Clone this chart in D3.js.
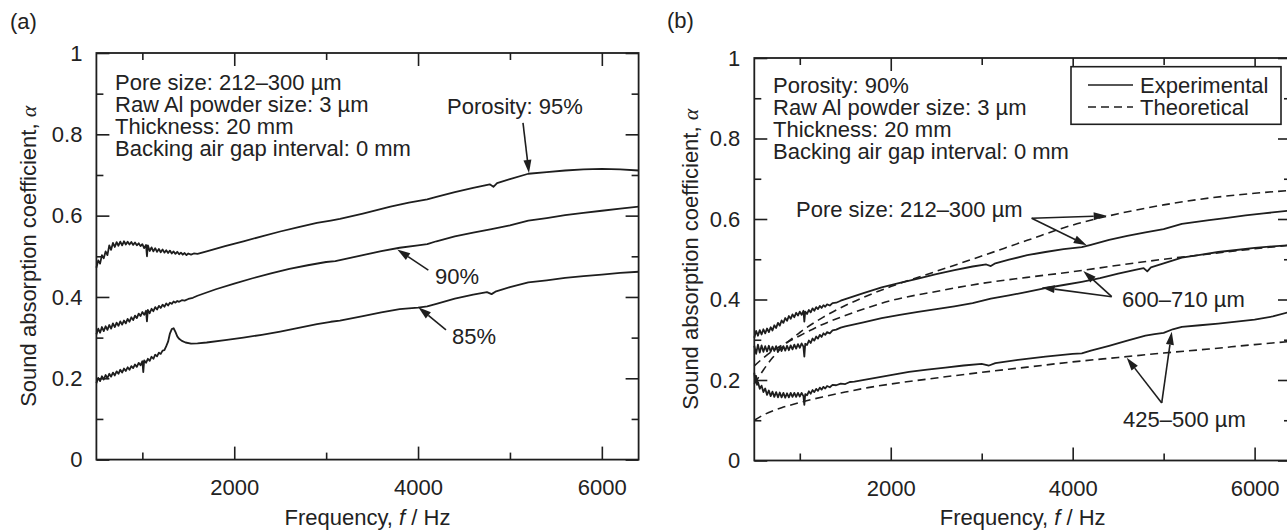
<!DOCTYPE html>
<html>
<head>
<meta charset="utf-8">
<script src="https://cdn.jsdelivr.net/npm/d3@7"></script>
<style>
  body { margin: 0; background: #fff; }
  text { font-family: "Liberation Sans", Arial, Helvetica, sans-serif; fill: #222; }
</style>
</head>
<body>
<script>
// ---- data: [frequency Hz, absorption coefficient] ----
const xMajor = [2000, 4000, 6000];
const xMinor = [1000, 3000, 5000];
const yMajor = [0, 0.2, 0.4, 0.6, 0.8, 1];
const yMinor = [0.1, 0.3, 0.5, 0.7, 0.9];

// (a) experimental, porosity 95 / 90 / 85 %
const a95 = [[500,0.472],[520,0.49],[540,0.482],[560,0.503],[580,0.495],[600,0.512],[620,0.503],[640,0.527],[660,0.516],[680,0.533],[700,0.523],[720,0.535],[740,0.526],[760,0.536],[780,0.527],[800,0.537],[820,0.529],[840,0.536],[860,0.529],[880,0.535],[900,0.528],[920,0.534],[940,0.527],[960,0.532],[980,0.525],[1000,0.53],[1020,0.52],[1040,0.528],[1050,0.5],[1060,0.527],[1080,0.513],[1100,0.522],[1120,0.512],[1140,0.52],[1160,0.511],[1180,0.518],[1200,0.51],[1220,0.517],[1240,0.509],[1260,0.515],[1280,0.508],[1300,0.514],[1320,0.507],[1340,0.512],[1360,0.506],[1380,0.511],[1400,0.505],[1420,0.509],[1440,0.504],[1460,0.508],[1480,0.503],[1500,0.507],[1530,0.504],[1560,0.507],[1600,0.506],[1700,0.512],[1900,0.525],[2100,0.537],[2300,0.549],[2500,0.561],[2700,0.572],[2900,0.582],[3050,0.588],[3150,0.592],[3400,0.605],[3700,0.622],[3900,0.632],[4100,0.64],[4200,0.646],[4400,0.658],[4600,0.668],[4780,0.677],[4820,0.671],[4860,0.68],[5000,0.69],[5200,0.703],[5400,0.707],[5600,0.711],[5800,0.714],[6000,0.715],[6200,0.714],[6400,0.711]];
const a90 = [[500,0.308],[520,0.322],[540,0.312],[560,0.326],[580,0.316],[600,0.328],[620,0.319],[640,0.331],[660,0.322],[680,0.335],[700,0.326],[720,0.337],[740,0.329],[760,0.34],[780,0.332],[800,0.342],[820,0.335],[840,0.346],[860,0.339],[880,0.35],[900,0.343],[920,0.354],[940,0.348],[960,0.359],[980,0.353],[1000,0.363],[1020,0.356],[1040,0.366],[1050,0.34],[1060,0.368],[1080,0.36],[1100,0.371],[1120,0.365],[1140,0.375],[1160,0.369],[1180,0.378],[1200,0.373],[1220,0.381],[1240,0.376],[1260,0.384],[1280,0.379],[1300,0.386],[1320,0.383],[1340,0.389],[1360,0.386],[1380,0.39],[1400,0.388],[1430,0.392],[1460,0.391],[1500,0.395],[1550,0.398],[1600,0.403],[1800,0.419],[2000,0.433],[2200,0.446],[2400,0.458],[2600,0.469],[2800,0.478],[3000,0.486],[3100,0.488],[3200,0.493],[3400,0.503],[3600,0.513],[3800,0.521],[4000,0.527],[4100,0.53],[4200,0.537],[4400,0.549],[4600,0.558],[4800,0.567],[5000,0.576],[5200,0.588],[5400,0.594],[5600,0.601],[5800,0.607],[6000,0.612],[6200,0.617],[6400,0.622]];
const a85 = [[500,0.188],[520,0.201],[540,0.193],[560,0.205],[580,0.197],[600,0.208],[620,0.2],[640,0.211],[660,0.204],[680,0.214],[700,0.207],[720,0.217],[740,0.211],[760,0.221],[780,0.214],[800,0.224],[820,0.218],[840,0.227],[860,0.221],[880,0.23],[900,0.225],[920,0.234],[940,0.228],[960,0.238],[980,0.232],[1000,0.242],[1010,0.215],[1020,0.244],[1040,0.238],[1060,0.248],[1080,0.243],[1100,0.253],[1120,0.248],[1140,0.258],[1160,0.254],[1180,0.263],[1200,0.26],[1220,0.268],[1240,0.269],[1260,0.279],[1280,0.29],[1300,0.31],[1320,0.321],[1340,0.323],[1360,0.314],[1380,0.303],[1400,0.297],[1430,0.292],[1470,0.288],[1530,0.285],[1600,0.286],[1700,0.288],[1900,0.294],[2100,0.3],[2300,0.307],[2500,0.315],[2700,0.324],[2900,0.333],[3050,0.339],[3150,0.342],[3400,0.353],[3600,0.362],[3800,0.37],[4000,0.374],[4100,0.377],[4200,0.383],[4400,0.396],[4600,0.406],[4750,0.412],[4800,0.407],[4850,0.414],[5000,0.424],[5200,0.436],[5400,0.441],[5600,0.447],[5800,0.451],[6000,0.455],[6200,0.459],[6400,0.462]];

// (b) experimental, pore size 212-300 / 600-710 / 425-500 um
const b212 = [[500,0.305],[520,0.322],[540,0.31],[560,0.324],[580,0.313],[600,0.326],[620,0.316],[640,0.328],[660,0.319],[680,0.331],[700,0.323],[720,0.336],[740,0.329],[760,0.342],[780,0.335],[800,0.348],[820,0.342],[840,0.354],[860,0.347],[880,0.359],[900,0.352],[920,0.363],[940,0.356],[960,0.367],[980,0.36],[1000,0.37],[1020,0.362],[1040,0.372],[1050,0.345],[1060,0.37],[1080,0.364],[1100,0.374],[1120,0.368],[1140,0.378],[1160,0.372],[1180,0.381],[1200,0.376],[1220,0.384],[1240,0.379],[1260,0.386],[1280,0.382],[1300,0.388],[1330,0.385],[1360,0.391],[1400,0.392],[1450,0.397],[1500,0.401],[1700,0.416],[1900,0.43],[2100,0.441],[2300,0.452],[2500,0.463],[2700,0.473],[2900,0.482],[3050,0.487],[3100,0.483],[3150,0.49],[3300,0.499],[3500,0.51],[3700,0.518],[3900,0.525],[4100,0.53],[4200,0.536],[4400,0.548],[4600,0.558],[4800,0.567],[5000,0.575],[5200,0.588],[5300,0.591],[5500,0.597],[5700,0.603],[5900,0.609],[6100,0.614],[6400,0.621]];
const b600 = [[500,0.285],[520,0.265],[540,0.288],[560,0.268],[580,0.286],[600,0.27],[620,0.284],[640,0.271],[660,0.285],[680,0.27],[700,0.283],[720,0.272],[740,0.284],[760,0.27],[780,0.282],[800,0.272],[820,0.284],[840,0.273],[860,0.285],[880,0.274],[900,0.286],[920,0.276],[940,0.288],[960,0.278],[980,0.289],[1000,0.28],[1020,0.291],[1040,0.283],[1050,0.258],[1060,0.29],[1080,0.287],[1100,0.298],[1120,0.292],[1140,0.303],[1160,0.298],[1180,0.308],[1200,0.303],[1220,0.312],[1240,0.307],[1260,0.316],[1280,0.312],[1300,0.319],[1330,0.316],[1360,0.323],[1400,0.325],[1450,0.33],[1500,0.333],[1600,0.338],[1700,0.343],[1900,0.354],[2100,0.362],[2300,0.369],[2500,0.376],[2700,0.383],[2900,0.391],[3100,0.402],[3300,0.41],[3500,0.419],[3700,0.428],[3900,0.436],[4100,0.444],[4300,0.453],[4500,0.464],[4700,0.474],[4780,0.478],[4820,0.47],[4860,0.48],[5000,0.49],[5200,0.504],[5400,0.511],[5600,0.518],[5800,0.523],[6000,0.528],[6200,0.532],[6400,0.535]];
const b425 = [[500,0.218],[510,0.198],[520,0.21],[530,0.188],[540,0.195],[560,0.178],[580,0.186],[600,0.17],[620,0.179],[640,0.163],[660,0.174],[680,0.16],[700,0.171],[720,0.158],[740,0.17],[760,0.157],[780,0.169],[800,0.157],[820,0.168],[840,0.156],[860,0.167],[880,0.157],[900,0.168],[920,0.158],[940,0.168],[960,0.158],[980,0.168],[1000,0.159],[1020,0.168],[1040,0.16],[1050,0.138],[1060,0.165],[1080,0.162],[1100,0.172],[1120,0.166],[1140,0.175],[1160,0.17],[1180,0.178],[1200,0.173],[1220,0.181],[1240,0.176],[1260,0.183],[1280,0.179],[1300,0.185],[1330,0.182],[1360,0.188],[1400,0.187],[1450,0.191],[1500,0.19],[1550,0.195],[1600,0.196],[1800,0.204],[2000,0.212],[2200,0.22],[2400,0.226],[2600,0.231],[2800,0.236],[3000,0.24],[3080,0.236],[3150,0.242],[3400,0.25],[3700,0.258],[4000,0.265],[4100,0.266],[4200,0.273],[4400,0.285],[4600,0.298],[4800,0.31],[4900,0.314],[5000,0.317],[5100,0.326],[5200,0.332],[5400,0.336],[5600,0.34],[5800,0.345],[6000,0.35],[6200,0.358],[6400,0.37]];

// (b) theoretical
const t212 = [[500,0.19],[600,0.225],[700,0.255],[800,0.28],[1000,0.318],[1250,0.355],[1500,0.385],[1750,0.41],[2000,0.432],[2500,0.47],[3000,0.508],[3500,0.547],[4000,0.585],[4500,0.613],[5000,0.635],[5500,0.652],[6000,0.664],[6400,0.671]];
const t600 = [[500,0.235],[600,0.255],[700,0.272],[800,0.286],[1000,0.31],[1250,0.338],[1500,0.36],[1750,0.38],[2000,0.397],[2500,0.42],[3000,0.44],[3500,0.455],[4000,0.469],[4500,0.485],[5000,0.5],[5500,0.513],[6000,0.526],[6400,0.535]];
const t425 = [[500,0.1],[600,0.113],[700,0.123],[800,0.131],[1000,0.144],[1250,0.158],[1500,0.17],[1750,0.181],[2000,0.19],[2500,0.205],[3000,0.219],[3500,0.232],[4000,0.245],[4500,0.256],[5000,0.267],[5500,0.277],[6000,0.288],[6400,0.296]];

// info text
const infoA = ["Pore size: 212\u2013300 \u00b5m", "Raw Al powder size: 3 \u00b5m", "Thickness: 20 mm", "Backing air gap interval: 0 mm"];
const infoB = ["Porosity: 90%", "Raw Al powder size: 3 \u00b5m", "Thickness: 20 mm", "Backing air gap interval: 0 mm"];

const INK = '#1e1e1e';
const FS = 22;

const svg = d3.select('body').append('svg')
    .attr('width', 1287)
    .attr('height', 531);

function panel(p) {
    const g = svg.append('g');
    const x = d3.scaleLinear().domain([500, 6400]).range([p.x0, p.x1]);
    const y = d3.scaleLinear().domain([0, 1]).range([p.y0, p.y1]);

    const line = d3.line().x(d => x(d[0])).y(d => y(d[1]));
    const smooth = d3.line().x(d => x(d[0])).y(d => y(d[1])).curve(d3.curveMonotoneX);

    p.dashed.forEach(s => {
        g.append('path').attr('d', smooth(s))
            .attr('fill', 'none').attr('stroke', INK)
            .attr('stroke-width', 1.6).attr('stroke-dasharray', '8,5');
    });
    p.solid.forEach(s => {
        g.append('path').attr('d', line(s))
            .attr('fill', 'none').attr('stroke', INK)
            .attr('stroke-width', 1.8).attr('stroke-linejoin', 'round');
    });

    // frame
    g.append('rect')
        .attr('x', p.x0).attr('y', p.y1)
        .attr('width', p.x1 - p.x0).attr('height', p.y0 - p.y1)
        .attr('fill', 'none').attr('stroke', INK).attr('stroke-width', 1.8);

    // ticks, all pointing inward
    const fmt = d3.format('~g');
    const add = (gen, tr) => {
        const a = g.append('g').attr('transform', tr).call(gen);
        a.select('.domain').remove();
        a.selectAll('line').attr('stroke', INK).attr('stroke-width', 1.6);
        a.attr('font-size', FS).attr('font-family', null);
        a.selectAll('text').attr('fill', '#222');
        return a;
    };
    add(d3.axisLeft(y).tickValues(yMajor).tickSize(-13).tickPadding(14).tickFormat(fmt), `translate(${p.x0},0)`);
    add(d3.axisLeft(y).tickValues(yMinor).tickSize(-7).tickFormat(''), `translate(${p.x0},0)`);
    add(d3.axisRight(y).tickValues(yMajor).tickSize(-13).tickFormat(''), `translate(${p.x1},0)`);
    add(d3.axisRight(y).tickValues(yMinor).tickSize(-7).tickFormat(''), `translate(${p.x1},0)`);
    add(d3.axisBottom(x).tickValues(xMajor).tickSize(-13).tickPadding(20).tickFormat(fmt), `translate(0,${p.y0})`);
    add(d3.axisBottom(x).tickValues(xMinor).tickSize(-7).tickFormat(''), `translate(0,${p.y0})`);
    add(d3.axisTop(x).tickValues(xMajor).tickSize(-13).tickFormat(''), `translate(0,${p.y1})`);
    add(d3.axisTop(x).tickValues(xMinor).tickSize(-7).tickFormat(''), `translate(0,${p.y1})`);

    // axis titles
    const yt = g.append('text')
        .attr('transform', `translate(${p.ytx},${(p.y0 + p.y1) / 2}) rotate(-90)`)
        .attr('text-anchor', 'middle').attr('font-size', FS);
    yt.append('tspan').text('Sound absorption coefficient, ');
    yt.append('tspan').text('\u03b1').attr('font-style', 'italic')
        .style('font-family', '"Liberation Serif", "DejaVu Serif", serif');

    const xt = g.append('text')
        .attr('x', (p.x0 + p.x1) / 2).attr('y', 525)
        .attr('text-anchor', 'middle').attr('font-size', FS);
    xt.append('tspan').text('Frequency, ');
    xt.append('tspan').text('f').attr('font-style', 'italic');
    xt.append('tspan').text(' / Hz');

    g.append('text').attr('x', p.lx).attr('y', p.ly).attr('font-size', FS).text(p.label);

    g.selectAll('.info').data(p.info).enter().append('text')
        .attr('x', p.infoX).attr('y', (d, i) => p.infoY + i * 22)
        .attr('font-size', FS).text(d => d);

    // callouts
    p.notes.forEach(n => {
        g.append('text').attr('x', n.tx).attr('y', n.ty).attr('font-size', FS).text(n.text);
        n.tips.forEach(tip => arrow(g, x(n.tail[0]), y(n.tail[1]), x(tip[0]), y(tip[1])));
    });
    return { g, x, y };
}

function arrow(g, x1, y1, x2, y2) {
    const a = Math.atan2(y2 - y1, x2 - x1);
    const L = 13, w = 4;
    const bx = x2 - L * Math.cos(a), by = y2 - L * Math.sin(a);
    g.append('line').attr('x1', x1).attr('y1', y1).attr('x2', bx).attr('y2', by)
        .attr('stroke', INK).attr('stroke-width', 1.6);
    const pts = [[x2, y2],
        [bx + w * Math.sin(a), by - w * Math.cos(a)],
        [bx - w * Math.sin(a), by + w * Math.cos(a)]];
    g.append('polygon').attr('points', pts.map(q => q.join(',')).join(' ')).attr('fill', INK);
}

panel({
    x0: 96.4, x1: 638.6, y0: 459.6, y1: 53,
    solid: [a95, a90, a85], dashed: [],
    ytx: 36, label: '(a)', lx: 10, ly: 29,
    info: infoA, infoX: 115, infoY: 89.5,
    notes: [
        { text: 'Porosity: 95%', tx: 447, ty: 113.5, tail: [5142, 0.828], tips: [[5207, 0.705]] },
        { text: '90%', tx: 435, ty: 283.5, tail: [4112, 0.466], tips: [[3774, 0.517]] },
        { text: '85%', tx: 452, ty: 343.5, tail: [4304, 0.319], tips: [[4003, 0.375]] }
    ]
});

const pb = panel({
    x0: 754.3, x1: 1291, y0: 460.5, y1: 58,
    solid: [b212, b600, b425], dashed: [t212, t600, t425],
    ytx: 698, label: '(b)', lx: 667, ly: 28,
    info: infoB, infoX: 773, infoY: 93.3,
    notes: [
        { text: 'Pore size: 212\u2013300 \u00b5m', tx: 796, ty: 216.7, tail: [3549, 0.602], tips: [[4374, 0.608], [4154, 0.535]] },
        { text: '600\u2013710 \u00b5m', tx: 1122, ty: 307, tail: [4429, 0.407], tips: [[4117, 0.471], [3659, 0.43]] },
        { text: '425\u2013500 \u00b5m', tx: 1123, ty: 426.7, tail: [4979, 0.143], tips: [[4594, 0.255], [5089, 0.32]] }
    ]
});

// legend in (b)
const lg = pb.g.append('g');
lg.append('rect').attr('x', 1071).attr('y', 66.7).attr('width', 210).attr('height', 57.6)
    .attr('fill', '#fff').attr('stroke', INK).attr('stroke-width', 1.6);
const legendItems = [['Experimental', null], ['Theoretical', '8,5']];
legendItems.forEach((d, i) => {
    const yy = 85 + i * 22;
    lg.append('line').attr('x1', 1088).attr('x2', 1133).attr('y1', yy).attr('y2', yy)
        .attr('stroke', INK).attr('stroke-width', 1.6).attr('stroke-dasharray', d[1]);
    lg.append('text').attr('x', 1140).attr('y', yy + 8).attr('font-size', FS).text(d[0]);
});
</script>
</body>
</html>
